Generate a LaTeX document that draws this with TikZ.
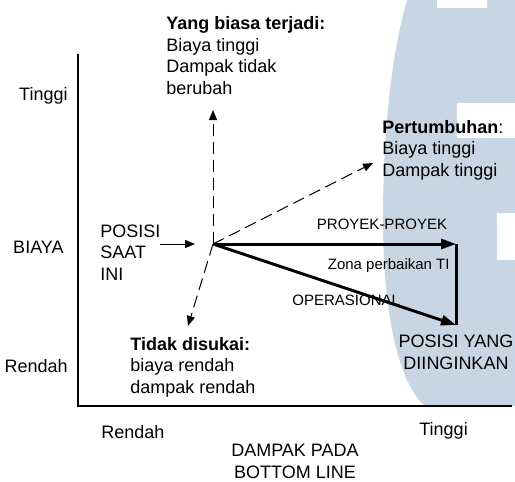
\documentclass[tikz,border=0pt]{standalone}
\usepackage{fontspec}
\setmainfont{Liberation Sans}
\usetikzlibrary{arrows.meta,positioning}
\definecolor{wmark}{RGB}{200,213,226}
\tikzset{
lbl/.style={inner sep=0pt, align=left, font=\fontsize{9}{10.7}\selectfont},
smalllbl/.style={inner sep=0pt, font=\fontsize{7.5}{9}\selectfont},
axisline/.style={line width=0.7pt},
dasharrow/.style={line width=0.5pt, dash pattern=on 6pt off 3pt,
  -{Triangle[length=5pt,width=4pt]}},
bigarrow/.style={line width=1.5pt, -{Triangle[length=7.5pt,width=5pt]}},
thinarrow/.style={line width=0.5pt, -{Triangle[length=5pt,width=4pt]}},
}
\begin{document}
\begin{tikzpicture}[x=0.5pt,y=-0.5pt]
\useasboundingbox (0,0) rectangle (515,482);
\fill[wmark] (407,0) .. controls (390,60) and (383,140) .. (383,220)
  .. controls (383,300) and (395,380) .. (425,406) -- (515,406) -- (515,0) -- cycle;
\fill[white] (437,0) rectangle (487,8);
\fill[white] (457,103) rectangle (515,138);
\fill[white] (497,213) rectangle (515,260);

\coordinate (ax0) at (78,406);
\coordinate (axy) at (78,54);
\coordinate (axx) at (512,406);
\coordinate (o) at (213,244);
\coordinate (u) at (213,110);
\coordinate (g) at (373,163);
\coordinate (d) at (188,326);
\coordinate (p) at (456,244);
\coordinate (q) at (456,325);
\coordinate (s1) at (160,244);
\coordinate (s2) at (195,244);

\draw[axisline] (axy) -- (ax0) -- (axx);

\node[lbl, anchor=base east] (tinggiy) at (68,100) {Tinggi};
\node[lbl, anchor=base east] (biaya) at (64,253) {BIAYA};
\node[lbl, anchor=base east] (rendahy) at (68,372) {Rendah};
\node[lbl, anchor=base west] (rendahx) at (101,438) {Rendah};
\node[lbl, anchor=base west] (tinggix) at (419,435) {Tinggi};
\node[lbl, align=center, anchor=base] (dampak) at (295,478) {DAMPAK PADA\\BOTTOM LINE};

\node[lbl, anchor=base west] (biasa) at (166,94)
  {\textbf{Yang biasa terjadi:}\\Biaya tinggi\\Dampak tidak\\berubah};
\node[lbl, anchor=base west] (tumbuh) at (382,176)
  {\textbf{Pertumbuhan}:\\Biaya tinggi\\Dampak tinggi};
\node[lbl, anchor=base west] (saatini) at (100,280) {POSISI\\SAAT\\INI};
\node[lbl, anchor=base west] (tidak) at (130,393)
  {\textbf{Tidak disukai:}\\biaya rendah\\dampak rendah};
\node[lbl, align=center, anchor=base] (ingin) at (456,369) {POSISI YANG\\DIINGINKAN};

\node[smalllbl, anchor=base] (proyek) at (382,229) {PROYEK-PROYEK};
\node[smalllbl, anchor=base east] (zona) at (450,269) {Zona perbaikan TI};
\node[smalllbl, anchor=base west] (ops) at (292,305) {OPERASIONAL};

\draw[thinarrow] (s1) -- (s2);
\draw[dasharrow] (o) -- (u);
\draw[dasharrow] (o) -- (g);
\draw[dasharrow] (o) -- (d);
\draw[bigarrow] (o) -- (p);
\draw[line width=1.5pt] (p) -- (q);
\draw[bigarrow] (o) -- (q);
\end{tikzpicture}
\end{document}
